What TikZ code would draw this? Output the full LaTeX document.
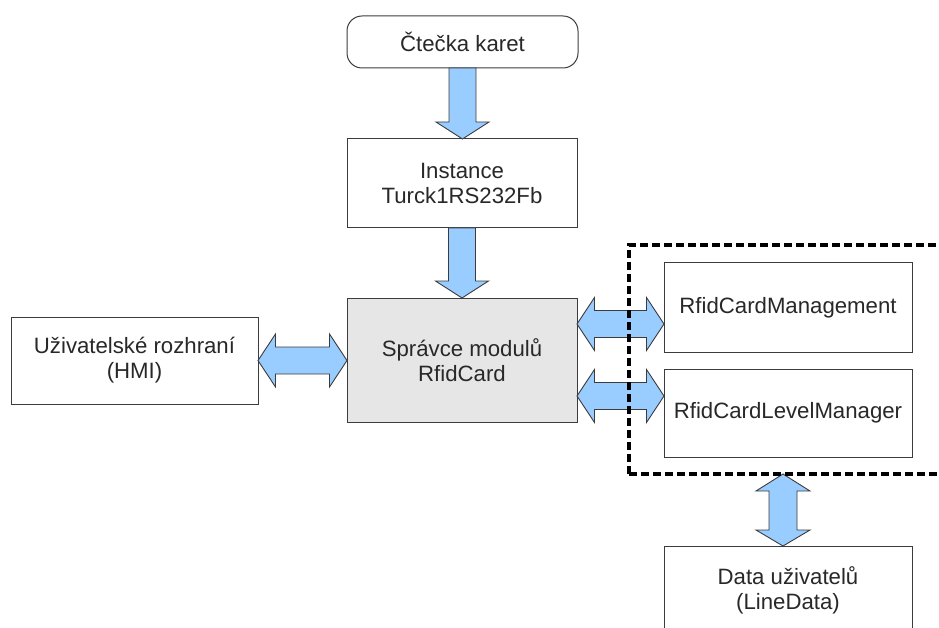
\documentclass[tikz,border=0pt]{standalone}
\usepackage{fontspec}
\setmainfont{Liberation Sans}
\usetikzlibrary{calc}
\definecolor{edge}{RGB}{60,60,60}
\definecolor{ink}{RGB}{40,40,40}
\definecolor{flowblue}{RGB}{153,204,255}
\definecolor{coregray}{RGB}{230,230,230}
\tikzset{
  block/.style={draw=edge, line width=1pt, fill=white, inner sep=0pt, outer sep=0pt,
    align=center, text=ink, font=\fontsize{22.2}{25}\selectfont},
  flow/.style={draw=edge, line width=0.9pt, fill=flowblue, line join=miter},
  % single-headed arrow pointing down, centred on the start x
  downflow/.style={to path={let \p1=(\tikztostart), \p2=(\tikztotarget) in
    (\x1-13.5pt,\y1) -- (\x1+13.5pt,\y1) -- (\x1+13.5pt,\y2+17pt) -- (\x1+26.5pt,\y2+17pt)
    -- (\x1,\y2) -- (\x1-26.5pt,\y2+17pt) -- (\x1-13.5pt,\y2+17pt) -- cycle}},
  % double-headed horizontal arrow at the start y
  hboth/.style={to path={let \p1=(\tikztostart), \p2=(\tikztotarget) in
    (\x1,\y1) -- (\x1+17.5pt,\y1+26.5pt) -- (\x1+17.5pt,\y1+13.5pt) -- (\x2-17.5pt,\y1+13.5pt)
    -- (\x2-17.5pt,\y1+26.5pt) -- (\x2,\y1) -- (\x2-17.5pt,\y1-26.5pt) -- (\x2-17.5pt,\y1-13.5pt)
    -- (\x1+17.5pt,\y1-13.5pt) -- (\x1+17.5pt,\y1-26.5pt) -- cycle}},
  % double-headed vertical arrow at the start x, start below the target
  vboth/.style={to path={let \p1=(\tikztostart), \p2=(\tikztotarget) in
    (\x1,\y1) -- (\x1+27pt,\y1+16pt) -- (\x1+14pt,\y1+16pt) -- (\x1+14pt,\y2-17pt)
    -- (\x1+27pt,\y2-17pt) -- (\x1,\y2) -- (\x1-27pt,\y2-17pt) -- (\x1-14pt,\y2-17pt)
    -- (\x1-14pt,\y1+16pt) -- (\x1-27pt,\y1+16pt) -- cycle}},
  groupframe/.style={draw=black, line width=4pt, dash pattern=on 8pt off 4pt}
}
\begin{document}
\begin{tikzpicture}[x=1pt,y=-1pt]
  \clip (0,0) rectangle (939,628);
  \useasboundingbox (0,0) rectangle (939,628);

  % module boxes
  \node[block, rounded corners=15pt, minimum width=231pt, minimum height=52pt]
    (reader) at (462.5,42) {Čtečka karet};
  \node[block, minimum width=230pt, minimum height=89pt]
    (inst) at (462,183.5) {Instance\\Turck1RS232Fb};
  \node[block, fill=coregray, minimum width=230pt, minimum height=124pt]
    (core) at (462,360) {Správce modulů\\RfidCard};
  \node[block, minimum width=247pt, minimum height=87pt]
    (hmi) at (134.5,360.5) {Uživatelské rozhraní\\(HMI)};
  \node[block, minimum width=248pt, minimum height=89pt]
    (mgmt) at (788,307.5) {RfidCardManagement};
  \node[block, minimum width=248pt, minimum height=88pt]
    (lvl) at (788,413) {RfidCardLevelManager};
  \node[block, minimum width=248pt, minimum height=89pt]
    (data) at (788,590.5) {Data uživatelů\\(LineData)};

  % extent of the RfidCard module group
  \node[inner sep=0pt, outer sep=0pt, minimum width=351pt, minimum height=229pt]
    (grp) at (804.5,359.5) {};

  % data flow arrows
  \draw[flow] (reader.south) to[downflow] (inst.north);
  \draw[flow] (inst.south) to[downflow] (core.north);
  \draw[flow] (hmi.east) to[hboth] (core.west);
  \draw[flow] ([yshift=36pt]core.east) to[hboth] (mgmt.west);
  \draw[flow] ([yshift=-36pt]core.east) to[hboth] (lvl.west);
  \draw[flow] ([xshift=-5pt]data.north) to[vboth] (grp.south);

  % dashed group frame, drawn over the arrows
  \draw[groupframe] (grp.south west) rectangle (grp.north east);
\end{tikzpicture}
\end{document}
